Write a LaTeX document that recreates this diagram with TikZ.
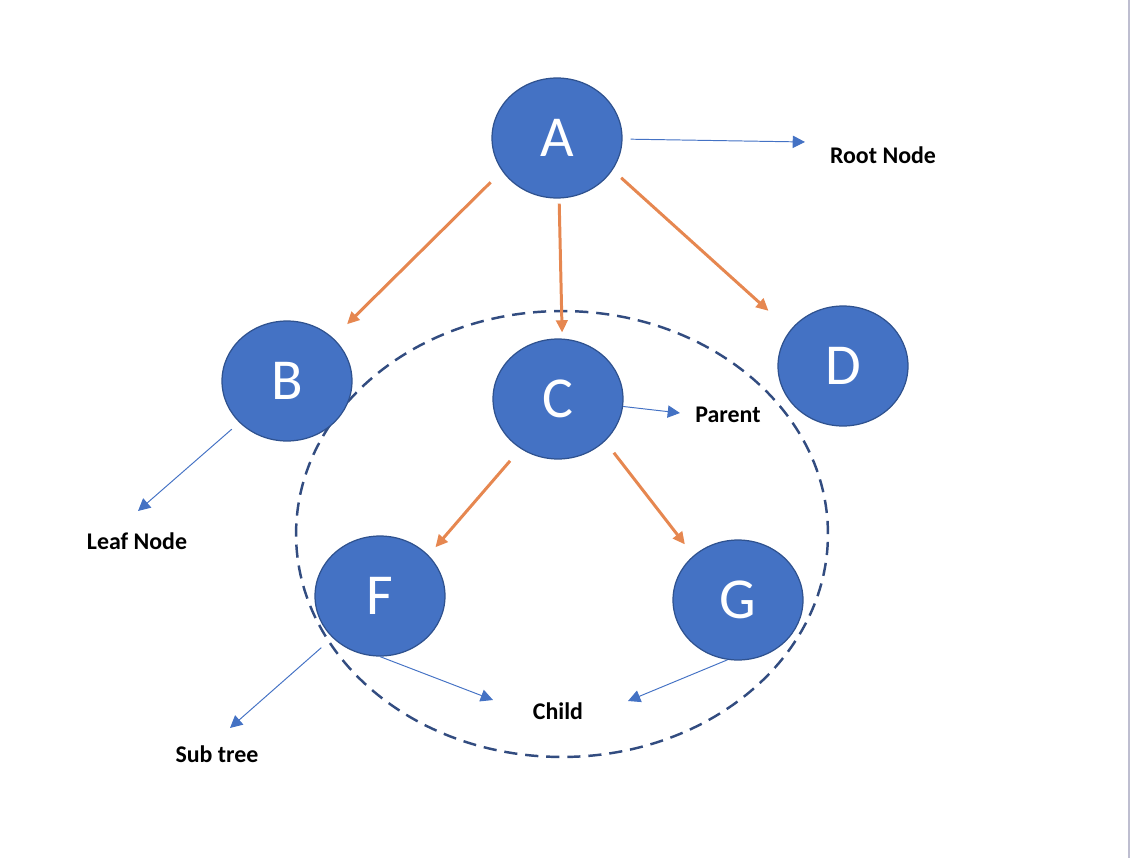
\documentclass[tikz,border=0pt]{standalone}
\usepackage{fontspec}
\setmainfont{Carlito}
\usetikzlibrary{shapes.geometric,arrows.meta}
\definecolor{azulnodo}{RGB}{68,114,196}
\definecolor{bordeazul}{RGB}{47,82,143}
\definecolor{naranja}{RGB}{230,135,80}
\definecolor{guion}{RGB}{50,76,128}
\definecolor{gris}{RGB}{190,190,208}
\begin{document}
\begin{tikzpicture}[x=0.02cm,y=-0.02cm,
    nodo/.style={ellipse, fill=azulnodo, draw=bordeazul, line width=0.7pt,
        minimum width=2.6cm, minimum height=2.4cm, inner sep=0pt,
        text=white, font=\fontsize{33}{38}\selectfont},
    rama/.style={draw=naranja, line width=1.7pt, -{Triangle[length=7pt,width=6.5pt]}},
    senal/.style={draw=azulnodo, line width=0.55pt, -{Triangle[length=7pt,width=7pt]}},
    etiqueta/.style={font=\bfseries\fontsize{13.6}{16}\selectfont, inner sep=0pt}]
    \useasboundingbox (0,0) rectangle (1131,858);
    \draw[gris, line width=0.6pt] (1129,0) -- (1129,858);

    % Dibuja el subarbol
    \node[ellipse, draw=guion, line width=1.4pt, dash pattern=on 7.5pt off 4.5pt,
        minimum width=10.64cm, minimum height=8.92cm, inner sep=0pt] (sub) at (562,534) {};

    % Dibuja los nodos
    \node[nodo] (A) at (557,138) {A};
    \node[nodo] (B) at (287,381) {B};
    \node[nodo] (C) at (558,399) {C};
    \node[nodo] (D) at (843,366) {D};
    \node[nodo] (F) at (380,596) {F};
    \node[nodo] (G) at (738,600) {G};

    % Dibuja las ramas
    \draw[rama, shorten <=0.32cm, shorten >=0.39cm] (A.211) -- (B.43);
    \draw[rama, shorten <=0.1cm, shorten >=0.12cm] (A.272) -- (C.86);
    \draw[rama, shorten <=0.23cm, shorten >=0.58cm] (A.-30) -- (D.146);
    \draw[rama, shorten <=0.32cm, shorten >=0.21cm] (C.233) -- (F.40);
    \draw[rama, shorten <=0.29cm, shorten >=0.28cm] (C.-42) -- (G.135);

    % Etiquetas
    \node[etiqueta] (root) at (883,155) {Root Node};
    \node[etiqueta] (parent) at (728,415) {Parent};
    \node[etiqueta] (leaf) at (137,541) {Leaf Node};
    \node[etiqueta] (subtree) at (217,754) {Sub tree};
    \node[etiqueta] (child) at (558,711) {Child};
    \coordinate (rootTip) at (805,142);
    \coordinate (parentTip) at (680,413);
    \coordinate (leafTip) at (138,511);
    \coordinate (subTip) at (230,728);
    \coordinate (childTipL) at (493,700);
    \coordinate (childTipR) at (628,701);
    \draw[senal, shorten <=0.16cm] (A) -- (rootTip);
    \draw[senal] (C) -- (parentTip);
    \draw[senal, shorten <=0.2cm] (B) -- (leafTip);
    \draw[senal, shorten <=0.3cm] (F) -- (subTip);
    \draw[senal] (F.south) -- (childTipL);
    \draw[senal] (G.260) -- (childTipR);
\end{tikzpicture}
\end{document}
